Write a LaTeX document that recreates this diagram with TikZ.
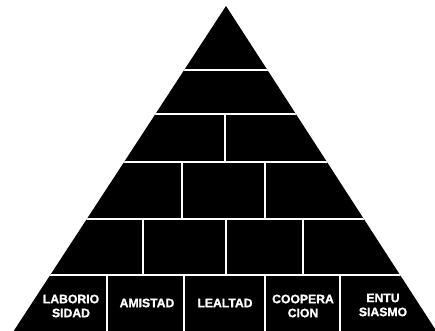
\documentclass[tikz,border=0pt]{standalone}
\usepackage{fontspec}
\setmainfont{Liberation Sans}
\newfontfamily\heavyfont{Liberation Sans}[BoldFeatures={FakeBold=1.2}]
\begin{document}
\begin{tikzpicture}[x=1pt,y=-1pt,
  brick/.style={white,line width=2.8pt},
  lbl/.style={text=white,font=\heavyfont\bfseries\fontsize{12.2}{14}\selectfont,align=center,inner sep=0pt}]
\useasboundingbox (0,0) rectangle (435,330);
\fill[black] (226,6) -- (437,332) -- (13,332) -- cycle;
\begin{scope}
\clip (226,6) -- (437,332) -- (13,332) -- cycle;
\foreach \y in {70,114,162,219,275} \draw[brick] (0,\y) -- (435,\y);
\draw[brick] (225,114) -- (225,162);
\foreach \x in {182,265} \draw[brick] (\x,162) -- (\x,219);
\foreach \x in {143,226,303} \draw[brick] (\x,219) -- (\x,275);
\foreach \x in {107,184,265,340} \draw[brick] (\x,275) -- (\x,332);
\end{scope}
\node[lbl] (v1) at (71,306) {LABORIO\\SIDAD};
\node[lbl] (v2) at (147,303) {AMISTAD};
\node[lbl] (v3) at (225,303) {LEALTAD};
\node[lbl] (v4) at (303,306) {COOPERA\\CION};
\node[lbl] (v5) at (383,305) {ENTU\\SIASMO};
\end{tikzpicture}
\end{document}
